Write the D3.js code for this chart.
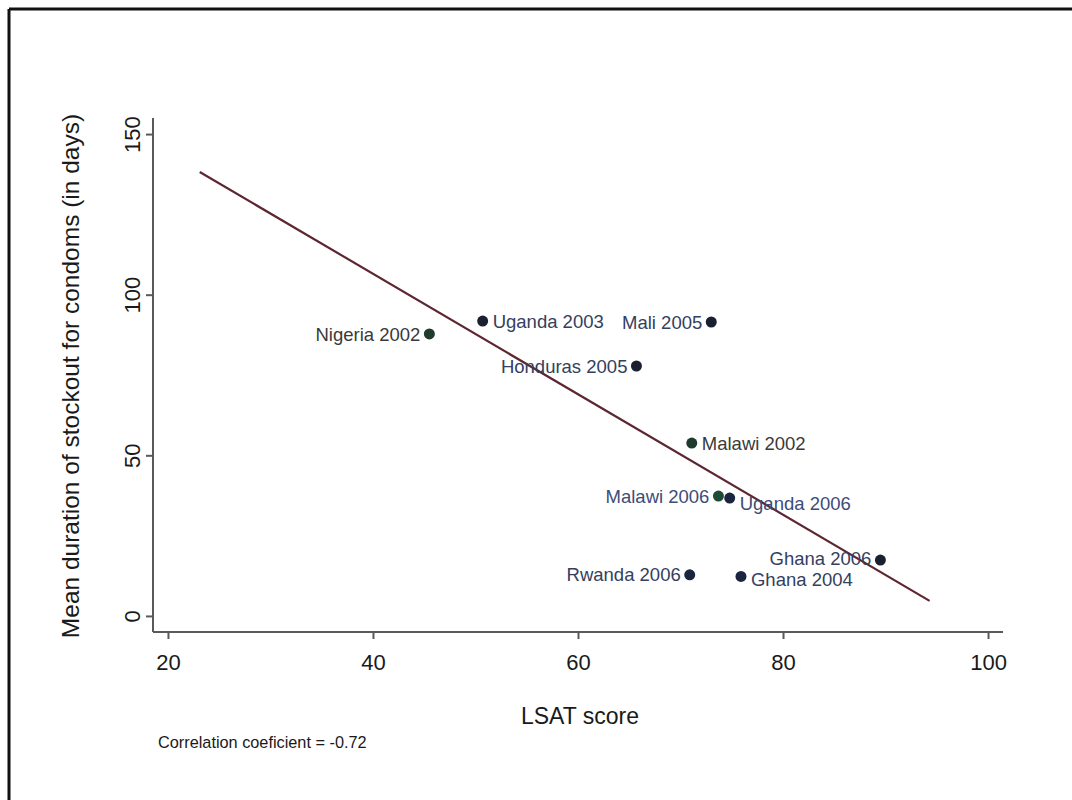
<!DOCTYPE html>
<html>
<head>
<meta charset="utf-8">
<script src="https://cdn.jsdelivr.net/npm/d3@7"></script>
<style>
  html, body { margin: 0; padding: 0; background: #fff; }
  svg { display: block; font-family: "Liberation Sans", Arial, sans-serif; }
</style>
</head>
<body>
<svg id="chart" width="1072" height="800"></svg>
<script>
// ---- data ----
const countries = ["Nigeria 2002", "Uganda 2003", "Mali 2005", "Honduras 2005", "Malawi 2002",
                   "Malawi 2006", "Uganda 2006", "Ghana 2006", "Rwanda 2006", "Ghana 2004"];
const lsatScore = [45.5, 50.7, 73.0, 65.7, 71.1, 73.7, 74.8, 89.5, 70.9, 75.9];
const stockoutDays = [87.8, 91.8, 91.5, 77.8, 53.8, 37.3, 36.7, 17.4, 12.8, 12.3];
const fitLineX = [23.1, 94.3];
const fitLineY = [138.2, 4.7];
const xTicks = [20, 40, 60, 80, 100];
const yTicks = [0, 50, 100, 150];
const xTitle = "LSAT score";
const yTitle = "Mean duration of stockout for condoms (in days)";
const note = "Correlation coeficient = -0.72";

// ---- label/marker appearance (not data) ----
const labelSide = ["left", "right", "left", "left", "right", "left", "right", "left", "left", "right"];
const labelDy   = [0, 0, 0, 0, 0, 0, 5, -2, 0, 3];
const dotColor  = ["#1e3b2e", "#1b2030", "#1b2030", "#1b2030", "#1e3b2e", "#1e4a38", "#1b2540", "#1b2030", "#1b2540", "#1b2540"];
const textColor = ["#3a3a3a", "#34405e", "#34405e", "#34405e", "#3a3a3a", "#3d4c78", "#3d4c78", "#34405e", "#34405e", "#34405e"];

const svg = d3.select("#chart");

// frame
svg.append("rect").attr("x", 0).attr("y", 0).attr("width", 1072).attr("height", 800).attr("fill", "#fff");
svg.append("line").attr("x1", 9).attr("x2", 1072).attr("y1", 9).attr("y2", 9)
  .attr("stroke", "#111").attr("stroke-width", 3);
svg.append("line").attr("x1", 9).attr("x2", 9).attr("y1", 9).attr("y2", 800)
  .attr("stroke", "#111").attr("stroke-width", 3);

const x = d3.scaleLinear().domain([18.54, 101.46]).range([153, 1003]);
const y = d3.scaleLinear().domain([-5, 155]).range([632, 118]);

const axisColor = "#5a5a5a";

// x axis
const xAxis = svg.append("g").attr("transform", "translate(0,632)")
  .call(d3.axisBottom(x).tickValues(xTicks).tickSize(7).tickPadding(12).tickFormat(d3.format("d")));
xAxis.select(".domain").attr("stroke", axisColor).attr("stroke-width", 2).attr("d", "M153,0H1003");
xAxis.selectAll(".tick line").attr("stroke", axisColor).attr("stroke-width", 2);
xAxis.selectAll(".tick text").attr("fill", "#1a1a1a").attr("font-size", 22)
  .attr("font-family", "Liberation Sans, Arial, sans-serif").attr("dy", "0.85em");

// y axis
const yAxis = svg.append("g").attr("transform", "translate(153,0)")
  .call(d3.axisLeft(y).tickValues(yTicks).tickSize(7).tickFormat(d3.format("d")));
yAxis.select(".domain").attr("stroke", axisColor).attr("stroke-width", 2).attr("d", "M0,118V632");
yAxis.selectAll(".tick line").attr("stroke", axisColor).attr("stroke-width", 2);
yAxis.selectAll(".tick text")
  .attr("fill", "#1a1a1a").attr("font-size", 22)
  .attr("font-family", "Liberation Sans, Arial, sans-serif")
  .attr("x", null).attr("dy", null)
  .attr("text-anchor", "middle")
  .attr("transform", "translate(-13,0) rotate(-90)");

// axis titles
svg.append("text").attr("x", 580).attr("y", 724).attr("text-anchor", "middle")
  .attr("font-size", 23).attr("fill", "#1a1a1a").text(xTitle);
svg.append("text").attr("transform", "translate(79,376) rotate(-90)").attr("text-anchor", "middle")
  .attr("font-size", 24.5).attr("fill", "#1a1a1a").text(yTitle);
svg.append("text").attr("x", 158).attr("y", 748)
  .attr("font-size", 16.3).attr("fill", "#1a1a1a").text(note);

// fit line
const fitPts = fitLineX.map((v, i) => [v, fitLineY[i]]);
svg.append("path").datum(fitPts)
  .attr("d", d3.line().x(d => x(d[0])).y(d => y(d[1])))
  .attr("fill", "none").attr("stroke", "#5e2630").attr("stroke-width", 2.2);

// points
const pts = countries.map((c, i) => ({ c, lx: lsatScore[i], ly: stockoutDays[i], i }));
svg.append("g").selectAll("circle").data(pts).join("circle")
  .attr("cx", d => x(d.lx)).attr("cy", d => y(d.ly)).attr("r", 5.5)
  .attr("fill", d => dotColor[d.i]);

svg.append("g").selectAll("text").data(pts).join("text")
  .attr("x", d => x(d.lx) + (labelSide[d.i] === "left" ? -9 : 10))
  .attr("y", d => y(d.ly) + labelDy[d.i])
  .attr("dy", "0.36em")
  .attr("text-anchor", d => labelSide[d.i] === "left" ? "end" : "start")
  .attr("font-size", 18.5)
  .attr("fill", d => textColor[d.i])
  .text(d => d.c);
</script>
</body>
</html>
